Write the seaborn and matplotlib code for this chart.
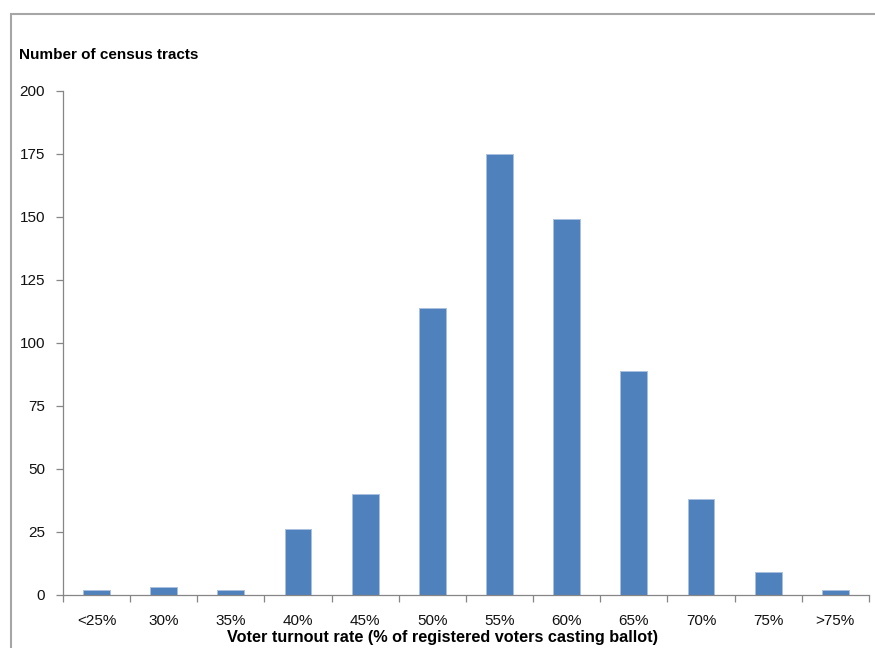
import matplotlib
matplotlib.use("Agg")
import matplotlib.pyplot as plt
from matplotlib.patches import Rectangle
import numpy as np
import pandas as pd
import seaborn as sns

# Distribution of census tracts by voter turnout rate
turnout_bins = ["<25%", "30%", "35%", "40%", "45%", "50%", "55%",
                "60%", "65%", "70%", "75%", ">75%"]
tract_counts = [2, 3, 2, 26, 40, 114, 175, 149, 89, 38, 9, 2]

y_ticks = [0, 25, 50, 75, 100, 125, 150, 175, 200]

df = pd.DataFrame({"bin": turnout_bins, "count": tract_counts})

sns.set_theme(style="white")
plt.rcParams["font.family"] = ["Liberation Sans", "DejaVu Sans"]

fig = plt.figure(figsize=(8.75, 6.48), dpi=100)
ax = fig.add_axes([0.072, 0.0818, 0.921, 0.778])

sns.barplot(data=df, x="bin", y="count", order=turnout_bins,
            color="#4F81BD", saturation=1, width=0.4,
            edgecolor="#a9c0de", linewidth=0.6, ax=ax)

axis_gray = "#868686"
ax.set_xlim(-0.5, len(turnout_bins) - 0.5)
ax.set_ylim(0, 200)
ax.set_yticks(y_ticks)
ax.set_yticklabels([str(v) for v in y_ticks])

# category separators as tick marks on the x axis
ax.set_xticks(np.arange(-0.5, len(turnout_bins), 1.0), minor=True)
ax.tick_params(axis="x", which="major", length=0, pad=14,
               labelsize=11, labelcolor="#111111")
ax.tick_params(axis="x", which="minor", length=5, width=0.9,
               color=axis_gray, direction="out", bottom=True)
ax.tick_params(axis="y", which="major", length=5, width=0.9,
               color=axis_gray, direction="out", left=True,
               labelsize=11, labelcolor="#111111", pad=8)

for side in ("top", "right"):
    ax.spines[side].set_visible(False)
for side in ("left", "bottom"):
    ax.spines[side].set_color(axis_gray)
    ax.spines[side].set_linewidth(0.9)

ax.set_xlabel("Voter turnout rate (% of registered voters casting ballot)",
              fontsize=11.7, fontweight="bold", color="black")
ax.xaxis.set_label_coords(0.471, -0.0685)
ax.set_ylabel("")

fig.text(19 / 875, 1 - 55 / 648, "Number of census tracts",
         fontsize=11, fontweight="bold", ha="left", va="center",
         color="black")

# outer chart frame
fig.patches.append(Rectangle((11 / 875, -0.05), 1.2, 1 - 14 / 648 + 0.05,
                             transform=fig.transFigure, fill=False,
                             edgecolor="#a6a6a6", linewidth=1.5,
                             clip_on=False))

fig.savefig("out.png", dpi=100)
